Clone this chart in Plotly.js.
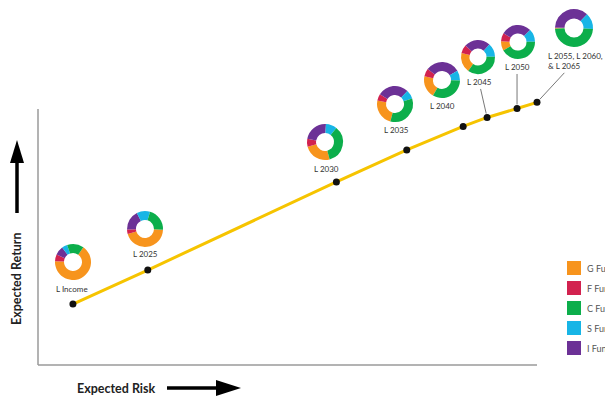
<!DOCTYPE html>
<html><head><meta charset="utf-8">
<script src="https://cdn.plot.ly/plotly-3.0.1.min.js"></script>
<style>html,body{margin:0;padding:0;background:#fff;overflow:hidden;} #chart{width:605px;height:396px;}</style>
</head><body><div id="chart"></div>
<script>
// ---- data ----
const funds = ['L Income', 'L 2025', 'L 2030', 'L 2035', 'L 2040', 'L 2045', 'L 2050', 'L 2055, L 2060,<br>& L 2065'];
const risk = [7.0, 22.0, 59.8, 73.9, 85.2, 90.0, 96.0, 100.0];
const ret  = [23.8, 37.1, 71.5, 84.0, 93.2, 96.7, 100.2, 102.6];
const fundNames = ['G Fund', 'F Fund', 'C Fund', 'S Fund', 'I Fund'];
const gShare = [66, 45, 25, 24, 20, 19, 9, 0.5];
const fShare = [6, 4, 7, 6, 7, 8, 8, 0.5];
const cShare = [15, 21, 35, 34, 33, 35, 42, 49];
const sShare = [5, 12, 10, 8, 9, 13, 12, 14];
const iShare = [8, 18, 23, 28, 31, 25, 29, 37];

// ---- styles / positions (pixels) ----
const W = 605, H = 396;
const fundColors = {'G Fund': '#F7941D', 'F Fund': '#D2224F', 'C Fund': '#0CAE4B', 'S Fund': '#17B5E6', 'I Fund': '#6C3196'};
const donutPos = [[73,262],[145,229],[325,142],[395,104],[442,80],[478,57],[518,42],[574,28]];
const donutR = [18,18,18,18,18,17,17,19];
const donutRot = [35, 92, 165, 195, 210, 215, 240, 268];
const labelPos = [[72,289],[145,254],[326,169],[396,130],[442,106]];
const leader = {5: [-8, -35], 6: [0, -41], 7: [38, -41]};
const px = x => x / W, py = y => 1 - y / H;

const traces = [{
  type: 'scatter', mode: 'lines+markers', x: risk, y: ret,
  line: {color: '#F6C400', width: 3},
  marker: {color: '#111', size: 7},
  cliponaxis: false, hoverinfo: 'skip', showlegend: false
}];

const order = ['G Fund', 'F Fund', 'I Fund', 'S Fund', 'C Fund'];
const shares = {'G Fund': gShare, 'F Fund': fShare, 'C Fund': cShare, 'S Fund': sShare, 'I Fund': iShare};
funds.forEach((f, i) => {
  const [cx, cy] = donutPos[i], r = donutR[i];
  traces.push({
    type: 'pie', hole: 0.5, sort: false, direction: 'clockwise', rotation: donutRot[i],
    labels: order, values: order.map(k => shares[k][i]),
    marker: {colors: order.map(k => fundColors[k]), line: {width: 0}},
    textinfo: 'none', hoverinfo: 'skip', showlegend: false,
    domain: {x: [px(cx - r), px(cx + r)], y: [py(cy + r), py(cy - r)]}
  });
});

const font = {family: 'Lato, "Open Sans", sans-serif', size: 8, color: '#333'};
const annotations = [];
funds.forEach((f, i) => {
  if (leader[i]) {
    annotations.push({x: risk[i], y: ret[i], xref: 'x', yref: 'y', text: f, showarrow: true,
      arrowhead: 0, arrowwidth: 0.8, arrowcolor: '#555', standoff: 4,
      ax: leader[i][0], ay: leader[i][1], font: font, align: 'left'});
  } else {
    annotations.push({x: px(labelPos[i][0]), y: py(labelPos[i][1]), xref: 'paper', yref: 'paper',
      xanchor: 'center', yanchor: 'middle', text: f, showarrow: false, font: font});
  }
});
const titleFont = {family: 'Lato, sans-serif', size: 12.5, color: '#222', weight: 'bold'};
annotations.push({x: px(16), y: py(279), xref: 'paper', yref: 'paper', xanchor: 'center', yanchor: 'middle',
  text: 'Expected Return', textangle: -90, showarrow: false, font: titleFont});
annotations.push({x: px(116), y: py(388), xref: 'paper', yref: 'paper', xanchor: 'center', yanchor: 'middle',
  text: 'Expected Risk', showarrow: false, font: titleFont});

const shapes = [
  {type: 'line', xref: 'x', yref: 'y', x0: 0, y0: 0, x1: 0, y1: 100, line: {color: '#9a9a9a', width: 1.5}},
  {type: 'line', xref: 'x', yref: 'y', x0: 0, y0: 0, x1: 100, y1: 0, line: {color: '#9a9a9a', width: 1.5}},
  {type: 'line', xref: 'paper', yref: 'paper', x0: px(17), y0: py(213), x1: px(17), y1: py(160), line: {color: '#000', width: 3.5}},
  {type: 'path', xref: 'paper', yref: 'paper', path: `M ${px(10)} ${py(163)} L ${px(24)} ${py(163)} L ${px(17)} ${py(140)} Z`, fillcolor: '#000', line: {width: 0}},
  {type: 'line', xref: 'paper', yref: 'paper', x0: px(167), y0: py(388), x1: px(220), y1: py(388), line: {color: '#000', width: 3.5}},
  {type: 'path', xref: 'paper', yref: 'paper', path: `M ${px(216)} ${py(380)} L ${px(216)} ${py(396)} L ${px(241)} ${py(388)} Z`, fillcolor: '#000', line: {width: 0}}
];
// legend
fundNames.forEach((n, j) => {
  const y = 268 + j * 20;
  shapes.push({type: 'rect', xref: 'paper', yref: 'paper', x0: px(567), x1: px(581), y0: py(y + 7), y1: py(y - 7),
    fillcolor: fundColors[n], line: {width: 0}});
  annotations.push({x: px(585), y: py(y), xref: 'paper', yref: 'paper', xanchor: 'left', yanchor: 'middle', text: n,
    showarrow: false, font: {family: 'Lato, sans-serif', size: 9, color: '#555'}});
});

const layout = {
  width: W, height: H, margin: {l: 0, r: 0, t: 0, b: 0},
  paper_bgcolor: '#fff', plot_bgcolor: '#fff', showlegend: false,
  xaxis: {range: [-38 / 4.99, (W - 38) / 4.99], visible: false, fixedrange: true},
  yaxis: {range: [(365 - H) / 2.56, 365 / 2.56], visible: false, fixedrange: true},
  shapes: shapes, annotations: annotations
};
Plotly.newPlot('chart', traces, layout, {displayModeBar: false, staticPlot: true});
</script>
</body></html>
